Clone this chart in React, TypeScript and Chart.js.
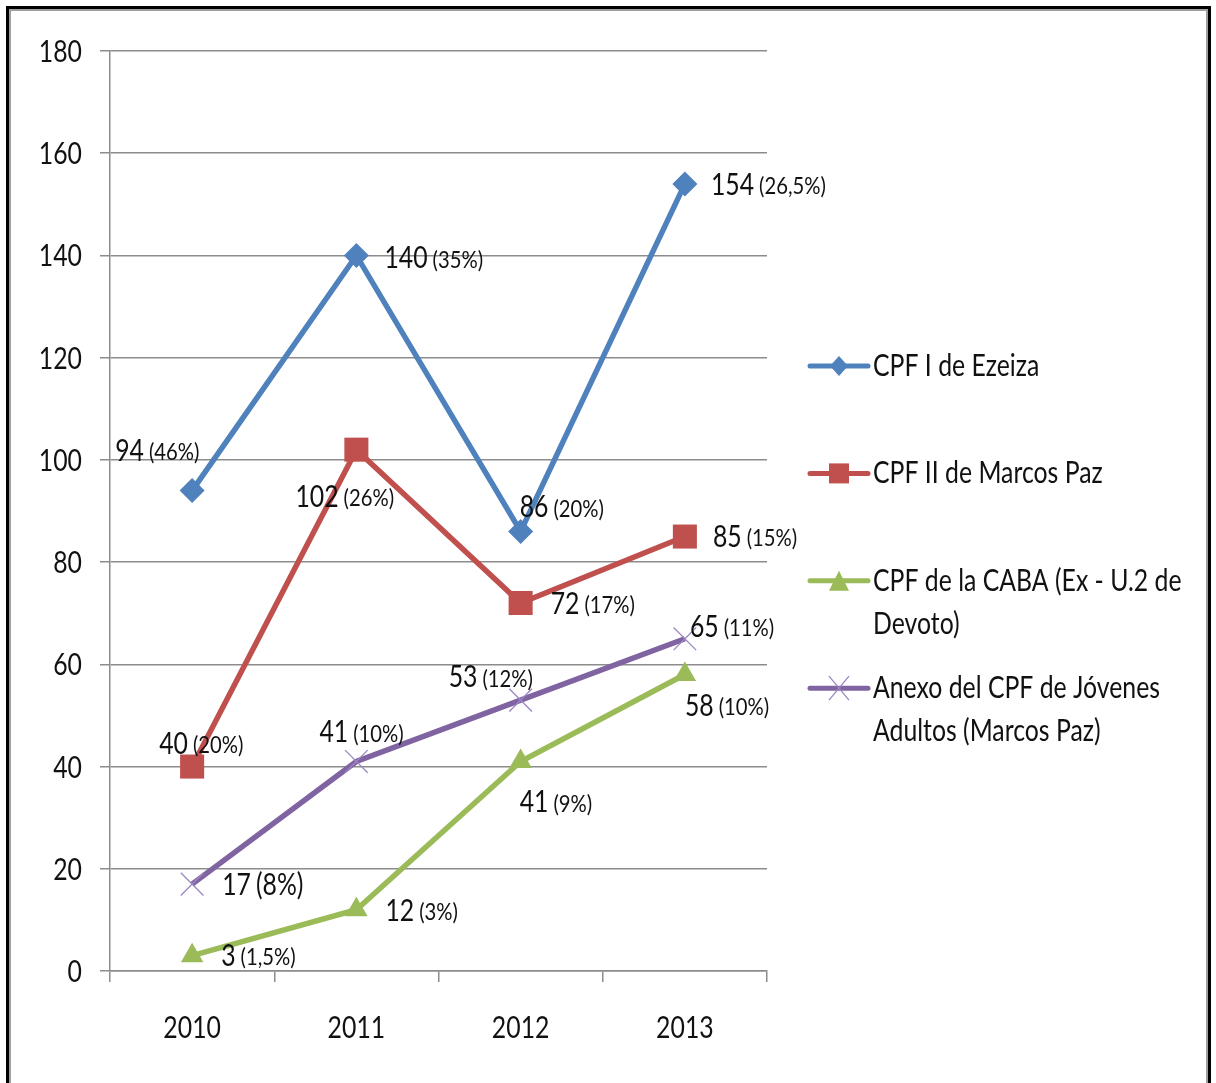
import React, { useEffect, useRef } from 'react';
import { Chart, registerables } from 'chart.js';

Chart.register(...registerables);

// ---- Data ----
const YEARS = ['2010', '2011', '2012', '2013'];
const SERIES_NAMES = [
  'CPF I de Ezeiza',
  'CPF II de Marcos Paz',
  'CPF de la CABA (Ex - U.2 de Devoto)',
  'Anexo del CPF de Jóvenes Adultos (Marcos Paz)',
];
const EZEIZA = [94, 140, 86, 154];
const MARCOS_PAZ = [40, 102, 72, 85];
const CABA = [3, 12, 41, 58];
const JOVENES = [17, 41, 53, 65];

const EZEIZA_PCT = ['46%', '35%', '20%', '26,5%'];
const MARCOS_PAZ_PCT = ['20%', '26%', '17%', '15%'];
const CABA_PCT = ['1,5%', '3%', '9%', '10%'];
const JOVENES_PCT = ['8%', '10%', '12%', '11%'];

const Y_MIN = 0;
const Y_MAX = 180;
const Y_STEP = 20;

// ---- Styles ----
const COLORS = ['#4F81BD', '#C0504D', '#9BBB59', '#8064A2'];
const CROSS_COLOR = '#9b86c4';
const POINT_STYLES = ['rectRot', 'rect', 'triangle', 'crossRot'];
const POINT_RADII = [12.5, 17, 13, 16];
const FONT = 'Lato, "Open Sans", sans-serif';
const SX = 0.8; // horizontal squeeze for a narrow, Calibri-like look
const GRID = '#8c8c8c';
const TEXT = '#111';

// label offsets (dx, dy) of the text start relative to the point
const LABEL_OFFSETS = [
  [[-77, -40], [28, 3], [-1, -24], [26, 1]],
  [[-33, -23], [-61, 47], [30, 1], [28, 0]],
  [[29, 0], [29, 1], [-1, 41], [0, 31]],
  [[30, 1], [-37, -29], [-72, -23], [5, -12]],
];

const SERIES_VALUES = [EZEIZA, MARCOS_PAZ, CABA, JOVENES];
const SERIES_PCTS = [EZEIZA_PCT, MARCOS_PAZ_PCT, CABA_PCT, JOVENES_PCT];

function drawText(
  ctx: CanvasRenderingContext2D,
  text: string,
  x: number,
  y: number,
  font: string,
  align: 'left' | 'center' | 'right' = 'left',
  sx: number = SX
) {
  ctx.save();
  ctx.font = font;
  ctx.textBaseline = 'middle';
  ctx.textAlign = 'left';
  ctx.fillStyle = TEXT;
  const w = ctx.measureText(text).width * sx;
  const x0 = align === 'left' ? x : align === 'center' ? x - w / 2 : x - w;
  ctx.translate(x0, y);
  ctx.scale(sx, 1);
  ctx.fillText(text, 0, 0);
  ctx.restore();
  return w;
}

const axisLabelPlugin = {
  id: 'axisLabels',
  afterDraw(chart: any) {
    const ctx = chart.ctx;
    const ys = chart.scales.y;
    const xs = chart.scales.x;
    ys.ticks.forEach((t: any, i: number) => {
      drawText(ctx, String(t.value), 82, ys.getPixelForTick(i) + 1, `31px ${FONT}`, 'right');
    });
    xs.ticks.forEach((t: any, i: number) => {
      drawText(ctx, String(chart.data.labels[i]), xs.getPixelForTick(i), 1028, `31px ${FONT}`, 'center');
    });
  },
};

const labelPlugin = {
  id: 'pointLabels',
  afterDatasetsDraw(chart: any) {
    const ctx = chart.ctx;
    chart.data.datasets.forEach((ds: any, di: number) => {
      const meta = chart.getDatasetMeta(di);
      meta.data.forEach((pt: any, i: number) => {
        const [dx, dy] = LABEL_OFFSETS[di][i];
        const x = pt.x + dx;
        const y = pt.y + dy;
        const w = drawText(ctx, String(ds.data[i]), x, y, `31px ${FONT}`);
        const big = di === 3 && i === 0;
        drawText(
          ctx,
          `(${SERIES_PCTS[di][i]})`,
          x + w + 5,
          y + (big ? 0 : 2),
          big ? `31px ${FONT}` : `23px ${FONT}`,
          'left',
          big ? SX : 0.88
        );
      });
    });
  },
};

function drawMarker(ctx: CanvasRenderingContext2D, style: string, x: number, y: number, color: string) {
  ctx.save();
  ctx.fillStyle = color;
  ctx.strokeStyle = color;
  ctx.beginPath();
  if (style === 'rectRot') {
    ctx.moveTo(x, y - 10);
    ctx.lineTo(x + 9, y);
    ctx.lineTo(x, y + 10);
    ctx.lineTo(x - 9, y);
    ctx.closePath();
    ctx.fill();
  } else if (style === 'rect') {
    ctx.rect(x - 10, y - 10, 20, 20);
    ctx.fill();
  } else if (style === 'triangle') {
    ctx.moveTo(x, y - 10);
    ctx.lineTo(x + 10, y + 10);
    ctx.lineTo(x - 10, y + 10);
    ctx.closePath();
    ctx.fill();
  } else {
    ctx.strokeStyle = CROSS_COLOR;
    ctx.lineWidth = 1.3;
    ctx.moveTo(x - 10, y - 12);
    ctx.lineTo(x + 10, y + 12);
    ctx.moveTo(x + 10, y - 12);
    ctx.lineTo(x - 10, y + 12);
    ctx.stroke();
  }
  ctx.restore();
}

const legendPlugin = {
  id: 'sideLegend',
  afterDraw(chart: any) {
    const ctx = chart.ctx;
    const font = `31px ${FONT}`;
    const x0 = 810;
    const x1 = 868;
    const tx = 873;
    const maxW = 330;
    chart.data.datasets.forEach((ds: any, di: number) => {
      const y = 366 + di * 107.4;
      ctx.save();
      ctx.font = font;
      const words = String(ds.label).split(' ');
      const lines: string[] = [];
      let cur = '';
      words.forEach((w) => {
        const test = cur ? cur + ' ' + w : w;
        if (ctx.measureText(test).width * SX > maxW && cur) {
          lines.push(cur);
          cur = w;
        } else cur = test;
      });
      if (cur) lines.push(cur);
      ctx.strokeStyle = COLORS[di];
      ctx.lineWidth = 5;
      ctx.lineCap = 'round';
      ctx.beginPath();
      ctx.moveTo(x0, y);
      ctx.lineTo(x1, y);
      ctx.stroke();
      ctx.restore();
      drawMarker(ctx, POINT_STYLES[di], (x0 + x1) / 2, y, COLORS[di]);
      lines.forEach((ln, li) => drawText(ctx, ln, tx, y + li * 43, font));
    });
  },
};

export default function App() {
  const ref = useRef<HTMLCanvasElement | null>(null);
  useEffect(() => {
    if (!ref.current) return;
    const chart = new Chart(ref.current, {
      type: 'line',
      data: {
        labels: YEARS,
        datasets: SERIES_VALUES.map((vals, i) => ({
          label: SERIES_NAMES[i],
          data: vals,
          borderColor: COLORS[i],
          backgroundColor: COLORS[i],
          borderWidth: 5.5,
          tension: 0,
          pointStyle: POINT_STYLES[i] as any,
          pointRadius: POINT_RADII[i],
          pointBorderWidth: i === 3 ? 1.3 : 0,
          pointBorderColor: i === 3 ? CROSS_COLOR : COLORS[i],
          pointBackgroundColor: COLORS[i],
          fill: false,
          clip: false as any,
        })),
      },
      options: {
        responsive: false,
        animation: false,
        layout: { padding: { top: 51, right: 449, left: 0, bottom: 0 } },
        plugins: {
          legend: { display: false },
          tooltip: { enabled: false },
        },
        scales: {
          x: {
            offset: true,
            grid: {
              offset: true,
              drawOnChartArea: false,
              drawTicks: true,
              tickLength: 11,
              color: GRID,
              lineWidth: 1.5,
            },
            border: { color: GRID, width: 1.5 },
            ticks: { display: false },
            afterFit: (s: any) => {
              s.height = 112;
            },
          },
          y: {
            min: Y_MIN,
            max: Y_MAX,
            ticks: { stepSize: Y_STEP, display: false },
            grid: { color: GRID, lineWidth: 1.5, tickLength: 10 },
            border: { color: GRID, width: 1.5 },
            afterFit: (s: any) => {
              s.width = 110;
            },
          },
        },
      },
      plugins: [labelPlugin, legendPlugin, axisLabelPlugin],
    });
    return () => chart.destroy();
  }, []);

  return (
    <div style={{ position: 'absolute', left: 0, top: 0, width: 1216, height: 1083, overflow: 'hidden', background: '#fff' }}>
      <div
        style={{
          position: 'absolute',
          left: 6,
          top: 6,
          width: 1199,
          height: 1100,
          border: '3px solid #000',
          boxShadow: 'inset 0 0 0 2px #a0a0a0',
        }}
      />
      <canvas ref={ref} width={1216} height={1083} style={{ position: 'absolute', left: 0, top: 0 }} />
    </div>
  );
}
